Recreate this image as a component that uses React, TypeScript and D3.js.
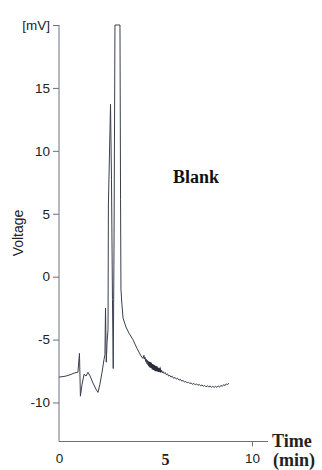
import React, { useEffect, useRef } from "react";
import * as d3 from "d3";

// Chromatogram trace, [time in min, signal in mV]
const baselineSegment: [number, number][] = [
  [0.0, -7.98], [0.16, -7.95], [0.36, -7.9], [0.57, -7.8], [0.78, -7.66],
  [0.98, -7.6], [1.06, -6.1], [1.11, -9.5], [1.19, -8.6], [1.3, -7.75],
  [1.4, -7.9], [1.5, -7.6], [1.61, -7.9], [1.76, -8.45], [1.92, -8.95],
  [2.02, -9.2], [2.12, -8.55], [2.23, -7.6], [2.33, -6.6], [2.38, -6.2],
];

const peakSegment: [number, number][] = [
  [2.41, -2.5], [2.45, -6.8], [2.49, -5.2], [2.54, -4.2], [2.56, 5.7],
  [2.67, 13.7], [2.72, 7.7], [2.77, -1.8], [2.81, -7.3], [2.85, 2.2],
  [2.9, 20], [3.16, 20], [3.19, 6.1], [3.21, -1.0], [3.26, -2.2],
  [3.32, -3.3], [3.47, -4.0], [3.63, -4.5], [3.83, -5.0], [4.04, -5.7],
  [4.25, -6.3], [4.35, -6.5],
];

const noisySegment: [number, number][] = [
  [4.4, -6.25], [4.43, -6.55], [4.46, -6.4], [4.49, -6.75], [4.52, -6.55],
  [4.55, -6.9], [4.58, -6.65], [4.61, -7.0], [4.64, -6.75], [4.67, -7.1],
  [4.7, -6.8], [4.73, -7.2], [4.76, -6.85], [4.79, -7.25], [4.82, -6.95],
  [4.85, -7.35], [4.88, -7.0], [4.91, -7.4], [4.94, -7.05], [4.97, -7.45],
  [5.0, -7.1], [5.03, -7.5], [5.06, -7.15], [5.09, -7.5], [5.12, -7.25],
  [5.15, -7.55], [5.18, -7.3], [5.21, -7.55], [5.24, -7.4], [5.28, -7.6],
  [5.32, -7.45], [5.36, -7.65], [5.4, -7.55], [5.45, -7.7], [5.5, -7.62],
];

const tailSegment: [number, number][] = [
  [5.56, -7.8], [5.62, -7.72], [5.68, -7.9], [5.74, -7.84], [5.8, -7.98],
  [5.87, -7.92], [5.94, -8.08], [6.01, -8.0], [6.08, -8.14], [6.15, -8.08],
  [6.22, -8.22], [6.29, -8.16], [6.36, -8.3], [6.43, -8.24], [6.5, -8.38],
  [6.57, -8.32], [6.64, -8.44], [6.71, -8.38], [6.78, -8.5], [6.85, -8.44],
  [6.92, -8.56], [6.99, -8.48], [7.06, -8.6], [7.13, -8.52], [7.2, -8.64],
  [7.27, -8.56], [7.34, -8.68], [7.41, -8.6], [7.48, -8.72], [7.55, -8.64],
  [7.62, -8.76], [7.69, -8.66], [7.76, -8.78], [7.83, -8.68], [7.9, -8.8],
  [7.97, -8.7], [8.04, -8.82], [8.11, -8.7], [8.18, -8.8], [8.25, -8.68],
  [8.32, -8.78], [8.39, -8.64], [8.46, -8.72], [8.53, -8.58], [8.6, -8.66],
  [8.67, -8.52], [8.74, -8.58], [8.8, -8.46],
];

const yTickValues = [20, 15, 10, 5, 0, -5, -10];
const yTickLabels = ["[mV]", "15", "10", "5", "0", "-5", "-10"];
const xTickValues = [0, 10];
const xTickLabels = ["0", "10"];

const W = 322;
const H = 470;
const SANS = "'Liberation Sans', Arial, sans-serif";
const SERIF = "'Liberation Serif', 'Times New Roman', serif";

export default function App() {
  const ref = useRef<SVGSVGElement | null>(null);

  useEffect(() => {
    const svg = d3.select(ref.current);
    svg.selectAll("*").remove();

    const x = d3.scaleLinear().domain([0, 10.83]).range([59, 268]);
    const y = d3.scaleLinear().domain([-13.1, 20]).range([441.5, 25]);

    const axisColor = "#6a707c";
    const textColor = "#222";

    // Y axis
    const yAxis = d3
      .axisLeft(y)
      .tickValues(yTickValues)
      .tickFormat((_d, i) => yTickLabels[i])
      .tickSize(6)
      .tickPadding(3);
    const gy = svg.append("g").attr("transform", `translate(${x(0)},0)`).call(yAxis);
    gy.select(".domain").attr("stroke", axisColor).attr("d", `M0,${y(20)}V${y(-13.1)}`);
    gy.selectAll(".tick line").attr("stroke", axisColor);
    gy.selectAll(".tick text")
      .attr("fill", textColor)
      .style("font-family", SANS)
      .style("font-size", "13.5px");

    // X axis
    const xAxis = d3
      .axisBottom(x)
      .tickValues(xTickValues)
      .tickFormat((_d, i) => xTickLabels[i])
      .tickSize(5)
      .tickPadding(7);
    const gx = svg.append("g").attr("transform", `translate(0,${y(-13.1)})`).call(xAxis);
    gx.select(".domain").attr("stroke", axisColor).attr("d", `M${x(0)},0H${x(10.83)}`);
    gx.selectAll(".tick line").attr("stroke", axisColor);
    gx.selectAll(".tick")
      .filter((d) => d === 0)
      .select("line")
      .remove();
    gx.selectAll(".tick text")
      .attr("fill", textColor)
      .style("font-family", SANS)
      .style("font-size", "13.5px");

    // Bold mid-axis label
    svg
      .append("text")
      .attr("x", x(5) + 10)
      .attr("y", 465)
      .attr("text-anchor", "middle")
      .attr("fill", textColor)
      .style("font-family", SERIF)
      .style("font-weight", "bold")
      .style("font-size", "16px")
      .text("5");

    // Axis titles
    svg
      .append("text")
      .attr("transform", `translate(23,233) rotate(-90)`)
      .attr("text-anchor", "middle")
      .attr("fill", textColor)
      .style("font-family", SANS)
      .style("font-size", "14px")
      .text("Voltage");

    svg
      .append("text")
      .attr("x", 272)
      .attr("y", 447)
      .attr("fill", textColor)
      .style("font-family", SERIF)
      .style("font-weight", "bold")
      .style("font-size", "18px")
      .text("Time");

    svg
      .append("text")
      .attr("x", 273)
      .attr("y", 466)
      .attr("fill", textColor)
      .style("font-family", SERIF)
      .style("font-weight", "bold")
      .style("font-size", "18px")
      .text("(min)");

    svg
      .append("text")
      .attr("x", 173)
      .attr("y", 183)
      .attr("fill", "#111")
      .style("font-family", SERIF)
      .style("font-weight", "bold")
      .style("font-size", "18px")
      .text("Blank");

    // Trace
    const line = d3
      .line<[number, number]>()
      .x((d) => x(d[0]))
      .y((d) => y(d[1]));

    const trace = [...baselineSegment, ...peakSegment, ...noisySegment, ...tailSegment];
    svg
      .append("path")
      .datum(trace)
      .attr("d", line)
      .attr("fill", "none")
      .attr("stroke", "#3a3f4c")
      .attr("stroke-width", 1)
      .attr("stroke-linejoin", "miter");

    // Heavier noise band after the main peak
    svg
      .append("path")
      .datum(noisySegment.slice(8, 30))
      .attr("d", line)
      .attr("fill", "none")
      .attr("stroke", "#2a2e38")
      .attr("stroke-width", 2);
  }, []);

  return (
    <svg
      ref={ref}
      width={W}
      height={H}
      style={{ position: "absolute", left: 0, top: 0, background: "#fff" }}
    />
  );
}
